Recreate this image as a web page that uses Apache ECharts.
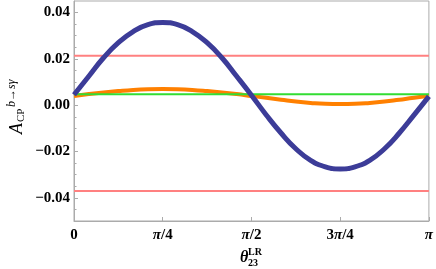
<!DOCTYPE html>
<html><head><meta charset="utf-8">
<script src="https://cdn.jsdelivr.net/npm/echarts@6/dist/echarts.min.js"></script>
<style>html,body{margin:0;padding:0;background:#fff}#c{width:436px;height:269px}</style>
</head><body><div id="c"></div>
<script>
// theta / pi
const thetaOverPi = [0, 0.0417, 0.0833, 0.125, 0.1667, 0.2083, 0.25, 0.2917, 0.3333, 0.375, 0.4167, 0.4583, 0.5, 0.5417, 0.5833, 0.625, 0.6667, 0.7083, 0.75, 0.7917, 0.8333, 0.875, 0.9167, 0.9583, 1];
const blueVals = [0.0045, 0.0125, 0.0205, 0.027, 0.0318, 0.0348, 0.0357, 0.0348, 0.0318, 0.027, 0.0205, 0.0125, 0.0043, -0.0042, -0.012, -0.0188, -0.0238, -0.0266, -0.0275, -0.0266, -0.0238, -0.0188, -0.012, -0.0042, 0.0038];
const orangeVals = [0.0040, 0.0048, 0.0055, 0.0061, 0.0066, 0.0069, 0.0070, 0.0069, 0.0066, 0.0061, 0.0055, 0.0048, 0.0040, 0.0032, 0.0024, 0.0016, 0.0010, 0.0006, 0.0005, 0.0006, 0.0010, 0.0016, 0.0024, 0.0032, 0.0041];
const greenLevel = 0.0047;
const redUpper = 0.0214;
const redLower = -0.037;
const xTickLabels = ['0', 'π/4', 'π/2', '3π/4', 'π'];
const yMajorTicks = [-0.04, -0.02, 0, 0.02, 0.04];
const yMinorTicks = [-0.045, -0.035, -0.03, -0.025, -0.015, -0.01, -0.005, 0.005, 0.01, 0.015, 0.025, 0.03, 0.035];

const pair = (xs, ys) => xs.map((x, i) => [x, ys[i]]);
const flat = v => [[0, v], [1, v]];
const serif = 'Liberation Serif';
const gray = '#ababab';

const chart = echarts.init(document.getElementById('c'), null, {renderer: 'canvas'});
const lineS = (data, color, w, z) => ({
  type: 'line', data, showSymbol: false, smooth: true, clip: true, z,
  lineStyle: {color, width: w}, silent: true, animation: false
});
chart.setOption({
  animation: false,
  grid: {left: 74, right: 6, top: 1, bottom: 48, show: true, borderColor: gray, borderWidth: 1, backgroundColor: 'transparent'},
  xAxis: {
    type: 'value', min: 0, max: 1, interval: 0.25,
    axisLine: {show: true, onZero: false, lineStyle: {color: gray}},
    axisTick: {show: true, inside: true, length: 4, lineStyle: {color: gray}},
    splitLine: {show: false},
    axisLabel: {
      margin: 7, color: '#000',
      formatter: v => {
        const s = xTickLabels[Math.round(v * 4)];
        return s.split('π').join('{i|π}').replace(/(^|\})([^{]+)$/, '$1{b|$2}').replace(/^([^{]+)\{/, '{b|$1}{');
      },
      rich: {
        b: {fontFamily: serif, fontWeight: 'bold', fontSize: 15, color: '#000'},
        i: {fontFamily: serif, fontWeight: 'bold', fontStyle: 'italic', fontSize: 15, color: '#000'}
      },
      fontFamily: serif, fontWeight: 'bold', fontSize: 15
    }
  },
  yAxis: [{
    type: 'value', min: -0.05, max: 0.045,
    axisLine: {show: true, onZero: false, lineStyle: {color: gray}},
    axisTick: {show: true, inside: true, length: 4, customValues: yMajorTicks, lineStyle: {color: gray}},
    splitLine: {show: false},
    axisLabel: {
      customValues: yMajorTicks, margin: 4, color: '#000',
      fontFamily: serif, fontWeight: 'bold', fontSize: 15,
      formatter: v => (v < 0 ? '\u2212' : '') + Math.abs(v).toFixed(2)
    }
  }, {
    type: 'value', min: -0.05, max: 0.045, position: 'left',
    axisLine: {show: false},
    axisTick: {show: true, inside: true, length: 2.5, customValues: yMinorTicks, lineStyle: {color: gray}},
    splitLine: {show: false},
    axisLabel: {show: false}
  }],
  series: [
    lineS(flat(redUpper), '#ff8080', 2, 2),
    lineS(flat(redLower), '#ff8080', 2, 2),
    lineS(pair(thetaOverPi, orangeVals), '#ff8000', 4, 3),
    lineS(flat(greenLevel), '#33dd33', 2, 4),
    lineS(pair(thetaOverPi, blueVals), '#3c3c98', 5, 5)
  ],
  graphic: [
    {type: 'group', x: 26, y: 134, rotation: Math.PI / 2, children: [
      {type: 'text', x: 0, y: 0, style: {text: 'A', font: 'italic 18px "Liberation Serif"', fill: '#000', verticalAlign: 'bottom'}},
      {type: 'text', x: 12, y: 1, style: {text: 'CP', font: '11px "Liberation Serif"', fill: '#000', verticalAlign: 'bottom'}},
      {type: 'text', x: 27, y: -8, style: {text: 'b→sγ', font: 'italic 12px "Liberation Serif"', fill: '#000', verticalAlign: 'bottom'}}
    ]},
    {type: 'group', x: 240, y: 266, children: [
      {type: 'text', x: 0, y: 0, style: {text: 'θ', font: 'bold italic 16px "Liberation Serif"', fill: '#000', verticalAlign: 'bottom'}},
      {type: 'text', x: 8, y: -9, style: {text: 'LR', font: 'bold 10px "Liberation Serif"', fill: '#000', verticalAlign: 'bottom'}},
      {type: 'text', x: 8, y: 2, style: {text: '23', font: 'bold 10px "Liberation Serif"', fill: '#000', verticalAlign: 'bottom'}}
    ]}
  ]
});
</script></body></html>
